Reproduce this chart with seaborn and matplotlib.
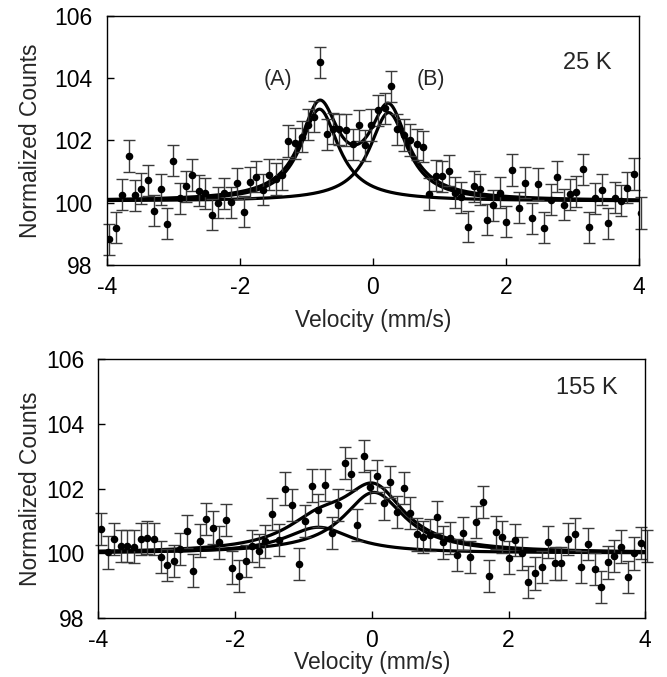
import numpy as np
import pandas as pd
import matplotlib
matplotlib.use("Agg")
import matplotlib.pyplot as plt
import seaborn as sns

# ---------------- data ----------------
velocity = [-3.96, -3.86, -3.77, -3.67, -3.58, -3.48, -3.38, -3.29, -3.19, -3.09,
            -3.00, -2.90, -2.81, -2.71, -2.61, -2.52, -2.42, -2.33, -2.23, -2.13,
            -2.04, -1.94, -1.84, -1.75, -1.65, -1.56, -1.46, -1.36, -1.27, -1.17,
            -1.07, -0.98, -0.88, -0.79, -0.69, -0.59, -0.50, -0.40, -0.30, -0.21,
            -0.11, -0.02, 0.08, 0.18, 0.27, 0.37, 0.47, 0.56, 0.66, 0.75,
            0.85, 0.95, 1.04, 1.14, 1.24, 1.33, 1.43, 1.52, 1.62, 1.72,
            1.81, 1.91, 2.00, 2.10, 2.20, 2.29, 2.39, 2.49, 2.58, 2.68,
            2.77, 2.87, 2.97, 3.06, 3.16, 3.26, 3.35, 3.45, 3.54, 3.64,
            3.74, 3.83, 3.93, 4.03]

counts_25K = [98.82, 99.20, 100.25, 101.50, 100.24, 100.45, 100.72, 99.74, 100.43, 99.32,
              101.34, 100.14, 100.53, 100.89, 100.39, 100.30, 99.61, 100.00, 100.30, 100.01,
              100.62, 99.71, 100.65, 100.83, 100.41, 100.90, 100.76, 100.90, 101.98, 101.90,
              102.12, 102.50, 102.76, 104.51, 102.19, 102.38, 102.35, 102.33, 101.87, 102.48,
              101.84, 102.49, 102.97, 103.03, 103.74, 102.35, 102.17, 102.01, 101.88, 101.80,
              100.28, 100.86, 100.84, 101.03, 100.32, 100.17, 99.23, 100.53, 100.43, 99.46,
              99.92, 100.32, 99.39, 101.05, 99.84, 100.64, 99.50, 100.60, 99.20, 100.09,
              100.83, 99.93, 100.27, 100.35, 101.07, 99.21, 100.14, 100.41, 99.34, 100.16,
              100.06, 100.48, 100.92, 99.67]

counts_155K = [100.75, 100.02, 100.43, 100.23, 100.23, 100.20, 100.44, 100.48, 100.44, 99.88,
               99.63, 99.76, 100.13, 100.67, 99.46, 100.39, 101.05, 100.79, 100.33, 101.02,
               99.55, 99.29, 99.75, 100.23, 100.08, 100.36, 101.21, 100.40, 102.00, 101.49,
               99.66, 100.99, 102.09, 101.32, 102.11, 100.63, 101.49, 102.80, 102.45, 100.87,
               103.00, 102.06, 102.39, 101.54, 102.21, 101.28, 102.02, 101.25, 100.58, 100.50,
               100.55, 101.11, 100.33, 100.46, 99.94, 100.61, 99.87, 100.97, 101.59, 99.30,
               100.64, 100.49, 99.86, 100.40, 99.99, 99.11, 99.37, 99.56, 100.34, 99.68,
               99.68, 100.44, 100.59, 99.58, 100.29, 99.50, 98.96, 99.71, 99.91, 100.20,
               99.26, 99.99, 100.32, 100.23]

error_half = 0.5

# Lorentzian fit parameters: (centre, HWHM, amplitude)
baseline_25K = 100.05
fit_25K = [(-0.80, 0.35, 2.95), (0.24, 0.35, 2.84)]
baseline_155K = 100.0
fit_155K = [(-0.78, 0.60, 0.80), (0.03, 0.55, 1.88)]

xticks = [-4, -2, 0, 2, 4]
yticks = [98, 100, 102, 104, 106]

# ---------------- styling ----------------
sns.set_theme(style="ticks")
plt.rcParams["font.family"] = ["Liberation Sans", "DejaVu Sans"]
plt.rcParams["axes.unicode_minus"] = False

W, H = 667, 677
fig = plt.figure(figsize=(W / 100, H / 100), dpi=100)
# axes boxes in pixels (left, top, right, bottom)
box_top = (106.7, 15.7, 638.7, 265.0)
box_bot = (98.4, 359.3, 645.3, 617.7)


def add_axes(box):
    l, t, r, b = box
    return fig.add_axes([l / W, 1 - b / H, (r - l) / W, (b - t) / H])


ax_top = add_axes(box_top)
ax_bot = add_axes(box_bot)

FS = 16.5


def lorentz(v, c, g, a):
    return a / (1.0 + ((v - c) / g) ** 2)


def draw_panel(ax, box, counts, base, comps, xlabel_center_px):
    grid = np.linspace(-4, 4, 801)
    parts = [base + lorentz(grid, *p) for p in comps]
    total = base + sum(lorentz(grid, *p) for p in comps)
    rows = []
    for k, p in enumerate(parts):
        rows.append(pd.DataFrame({"v": grid, "y": p, "curve": f"c{k}"}))
    rows.append(pd.DataFrame({"v": grid, "y": total, "curve": "sum"}))
    curves = pd.concat(rows, ignore_index=True)
    sns.lineplot(data=curves, x="v", y="y", units="curve", estimator=None,
                 color="black", linewidth=2.3, ax=ax, legend=False, sort=False)

    eb = ax.errorbar(velocity, counts, yerr=error_half, fmt="none",
                     ecolor="#3a3a3a", elinewidth=1.0, capsize=4, capthick=1.0)
    for art in eb.lines[1]:
        art.set_clip_on(False)
    for art in eb.lines[2]:
        art.set_clip_on(False)

    df = pd.DataFrame({"v": velocity, "y": counts})
    sns.scatterplot(data=df, x="v", y="y", color="black", s=30,
                    edgecolor="black", linewidth=0, ax=ax, zorder=5)

    ax.set_xlim(-4, 4)
    ax.set_ylim(98, 106)
    ax.set_xticks(xticks)
    ax.set_yticks(yticks)
    ax.set_xticklabels([str(t) for t in xticks])
    ax.set_yticklabels([str(t) for t in yticks])
    ax.tick_params(direction="in", length=5, width=1.0, colors="black",
                   labelsize=FS, top=False, right=False)
    ax.tick_params(axis="x", pad=8)
    ax.tick_params(axis="y", pad=10)
    for s in ax.spines.values():
        s.set_visible(True)
        s.set_linewidth(1.0)
        s.set_color("black")

    l, t, r, b = box
    ax.set_xlabel("Velocity (mm/s)", fontsize=FS)
    ax.xaxis.set_label_coords(0.5, (b - xlabel_center_px) / (b - t))
    ax.xaxis.label.set_verticalalignment("center")
    ax.set_ylabel("Normalized Counts", fontsize=FS)
    ax.yaxis.set_label_coords((31 - l) / (r - l), 0.5)
    ax.yaxis.label.set_verticalalignment("center")


draw_panel(ax_top, box_top, counts_25K, baseline_25K, fit_25K, 320)
draw_panel(ax_bot, box_bot, counts_155K, baseline_155K, fit_155K, 663)

ax_top.text(-1.42, 103.94, "(A)", fontsize=15.5, ha="center", va="center")
ax_top.text(0.87, 103.94, "(B)", fontsize=15.5, ha="center", va="center")
ax_top.text(3.22, 104.47, "25 K", fontsize=17, ha="center", va="center")
ax_bot.text(3.15, 105.1, "155 K", fontsize=17, ha="center", va="center")

fig.savefig("out.png", dpi=100)
